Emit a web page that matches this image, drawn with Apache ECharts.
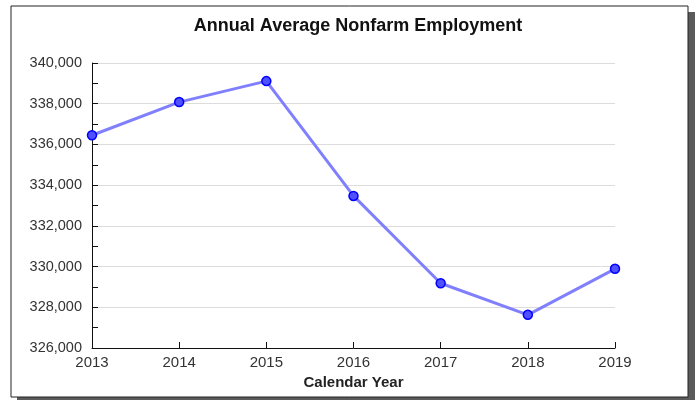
<!DOCTYPE html>
<html>
<head>
<meta charset="utf-8">
<script src="https://cdn.jsdelivr.net/npm/echarts@6/dist/echarts.min.js"></script>
<style>
html, body { margin: 0; padding: 0; background: #fff; }
#chart { width: 696px; height: 400px; }
</style>
</head>
<body>
<div id="chart"></div>
<script>
var years = ['2013', '2014', '2015', '2016', '2017', '2018', '2019'];
var employment = [336450, 338080, 339110, 333470, 329180, 327630, 329890];

var myChart = echarts.init(document.getElementById('chart'));

var option = {
    animation: false,
    backgroundColor: '#fff',
    graphic: [
        // frame shadow
        { type: 'rect', shape: { x: 17, y: 12, width: 678, height: 392 }, style: { fill: '#5a5a5a' }, z: -10 },
        // frame
        { type: 'rect', shape: { x: 11, y: 6, width: 677, height: 391 }, style: { fill: '#fff', stroke: '#222', lineWidth: 1 }, z: -9 }
    ],
    title: {
        text: 'Annual Average Nonfarm Employment',
        left: 353,
        top: 12,
        textAlign: 'center',
        textStyle: { fontFamily: 'Liberation Sans, Arial', fontSize: 18, fontWeight: 'bold', color: '#111' }
    },
    grid: { left: 92, right: 81, top: 63, bottom: 52 },
    xAxis: {
        type: 'category',
        data: years,
        boundaryGap: false,
        name: 'Calendar Year',
        nameLocation: 'middle',
        nameGap: 27,
        nameTextStyle: { fontFamily: 'Liberation Sans, Arial', fontSize: 15, fontWeight: 'bold', color: '#222' },
        axisLine: { lineStyle: { color: '#111', width: 1 } },
        axisTick: { show: true, inside: true, length: 6, lineStyle: { color: '#111' } },
        axisLabel: { fontFamily: 'Liberation Sans, Arial', fontSize: 15, color: '#333', margin: 7 },
        splitLine: { show: false }
    },
    yAxis: {
        type: 'value',
        min: 326000,
        max: 340000,
        interval: 2000,
        axisLine: { show: true, lineStyle: { color: '#111', width: 1 } },
        axisTick: { show: true, inside: true, length: 6, lineStyle: { color: '#111' } },
        minorTick: { show: true, splitNumber: 2, length: 6, lineStyle: { color: '#111' } },
        axisLabel: {
            fontFamily: 'Liberation Sans, Arial', fontSize: 14.5, color: '#333', margin: 10,
            formatter: function (v) { return v.toLocaleString('en-US'); }
        },
        splitLine: { show: true, lineStyle: { color: '#dcdcdc', width: 1 } }
    },
    series: [
        {
            type: 'line',
            data: employment,
            symbol: 'circle',
            symbolSize: 9,
            lineStyle: { color: '#8080ff', width: 3 },
            itemStyle: { color: '#5050ff', borderColor: '#0000ff', borderWidth: 1.5 }
        }
    ]
};

myChart.setOption(option);
</script>
</body>
</html>
